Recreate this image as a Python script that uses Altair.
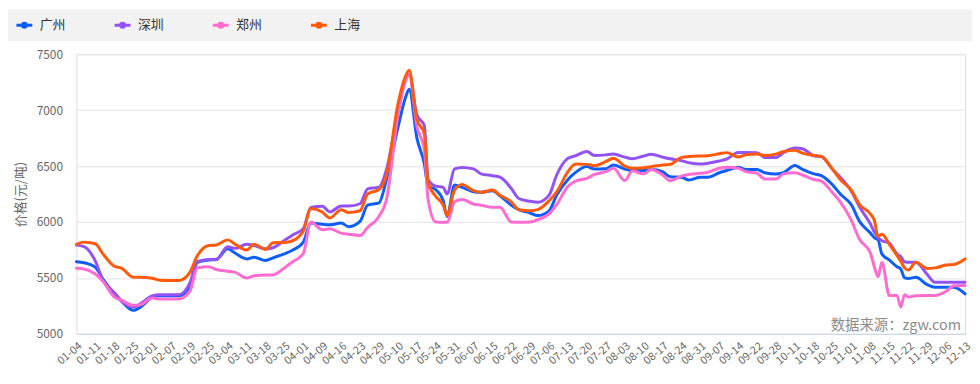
import altair as alt
import pandas as pd

# ---- data -------------------------------------------------------------------
TICK_LABELS = ['01-04', '01-11', '01-18', '01-25', '02-01', '02-07', '02-19', '02-25',
               '03-04', '03-11', '03-18', '03-25', '04-01', '04-09', '04-16', '04-23',
               '04-29', '05-10', '05-17', '05-24', '05-31', '06-07', '06-15', '06-22',
               '06-29', '07-06', '07-13', '07-20', '07-27', '08-03', '08-10', '08-17',
               '08-24', '08-31', '09-07', '09-14', '09-22', '09-28', '10-11', '10-18',
               '10-25', '11-01', '11-08', '11-15', '11-22', '11-29', '12-06', '12-13']

SERIES = ['广州', '深圳', '郑州', '上海']
COLORS = ['#0f5ef7', '#9352f5', '#ff6cd0', '#ff5a0a']

# trading-day index of each sample (one category label every 5 trading days)
IDX = [0, 2, 5, 7, 10, 12, 15, 17, 20, 22, 25, 27, 30, 32, 35, 37, 40, 42, 45, 47,
       50, 52, 55, 57, 60, 62, 65, 67, 70, 72, 75, 77, 80, 82, 85, 87, 88, 90, 92, 93,
       95, 97, 98, 100, 102, 105, 107, 110, 112, 115, 117, 120, 122, 125, 127, 130, 132,
       135, 137, 140, 142, 145, 147, 150, 152, 155, 157, 160, 162, 165, 167, 170, 172,
       175, 177, 180, 182, 185, 187, 190, 192, 195, 197, 200, 202, 205, 207, 210, 211,
       212, 213, 215, 217, 218, 219, 220, 222, 225, 227, 230, 232, 235]

GUANGZHOU = [5645, 5636, 5595, 5490, 5360, 5290, 5210, 5240, 5325, 5340, 5340, 5340, 5420,
             5640, 5660, 5665, 5760, 5720, 5670, 5685, 5655, 5680, 5715, 5745, 5820, 5990,
             5980, 5975, 5990, 5958, 6005, 6150, 6170, 6380, 6840, 7110, 7187, 6756, 6520,
             6320, 6290, 6190, 6050, 6330, 6310, 6270, 6265, 6280, 6235, 6150, 6110, 6080,
             6057, 6100, 6240, 6380, 6443, 6495, 6473, 6475, 6510, 6473, 6460, 6460, 6470,
             6450, 6405, 6399, 6375, 6400, 6400, 6440, 6460, 6490, 6470, 6470, 6440, 6429,
             6440, 6505, 6470, 6430, 6414, 6330, 6250, 6150, 6010, 5900, 5860, 5840, 5715,
             5660, 5600, 5580, 5500, 5495, 5505, 5440, 5417, 5417, 5417, 5357]

SHENZHEN = [5793, 5780, 5650, 5478, 5370, 5290, 5240, 5270, 5340, 5349, 5349, 5349, 5455,
            5645, 5665, 5666, 5778, 5764, 5800, 5790, 5760, 5770, 5835, 5880, 5941, 6130,
            6140, 6090, 6142, 6142, 6163, 6296, 6311, 6470, 6980, 7270, 7320, 6960, 6860,
            6380, 6320, 6310, 6250, 6475, 6488, 6475, 6430, 6414, 6400, 6300, 6210, 6185,
            6176, 6240, 6420, 6570, 6592, 6630, 6595, 6600, 6607, 6580, 6565, 6590, 6605,
            6580, 6565, 6548, 6530, 6518, 6525, 6545, 6563, 6622, 6622, 6620, 6577, 6577,
            6620, 6661, 6655, 6592, 6585, 6470, 6400, 6270, 6140, 5980, 5910, 5860, 5833,
            5810, 5714, 5690, 5645, 5640, 5640, 5530, 5461, 5461, 5461, 5461]

ZHENGZHOU = [5586, 5580, 5535, 5470, 5330, 5300, 5255, 5260, 5320, 5311, 5311, 5311, 5380,
             5590, 5600, 5575, 5560, 5550, 5500, 5520, 5527, 5527, 5590, 5640, 5719, 6000,
             5930, 5940, 5900, 5890, 5880, 5950, 6050, 6200, 6950, 7260, 7321, 6860, 6650,
             6200, 6000, 5997, 5997, 6180, 6200, 6161, 6150, 6131, 6131, 6000, 5997, 6000,
             6020, 6072, 6155, 6320, 6365, 6390, 6425, 6450, 6480, 6370, 6455, 6430, 6470,
             6420, 6369, 6410, 6425, 6435, 6445, 6480, 6490, 6480, 6450, 6435, 6384, 6384,
             6430, 6440, 6420, 6380, 6365, 6260, 6180, 6010, 5850, 5720, 5600, 5510, 5640,
             5342, 5342, 5240, 5350, 5330, 5340, 5342, 5342, 5380, 5430, 5432]

SHANGHAI = [5800, 5820, 5805, 5715, 5605, 5586, 5506, 5506, 5497, 5480, 5476, 5476, 5550,
            5700, 5790, 5795, 5840, 5800, 5750, 5800, 5755, 5815, 5817, 5830, 5920, 6120,
            6090, 6035, 6110, 6085, 6100, 6250, 6290, 6420, 7050, 7300, 7357, 6920, 6790,
            6350, 6230, 6150, 6060, 6285, 6335, 6280, 6265, 6285, 6240, 6180, 6110, 6101,
            6110, 6190, 6270, 6450, 6518, 6515, 6503, 6540, 6570, 6500, 6480, 6485, 6495,
            6510, 6515, 6577, 6585, 6590, 6592, 6610, 6620, 6580, 6600, 6607, 6595, 6607,
            6630, 6640, 6615, 6595, 6585, 6470, 6380, 6280, 6160, 6070, 6015, 5870, 5890,
            5800, 5700, 5650, 5590, 5570, 5640, 5585, 5590, 5615, 5620, 5670]

SOURCE_TEXT = '数据来源：zgw.com'
Y_TITLE = '价格(元/吨)'

# ---- build table ------------------------------------------------------------
values = [GUANGZHOU, SHENZHEN, ZHENGZHOU, SHANGHAI]
rows = []
for name, vals in zip(SERIES, values):
    assert len(vals) == len(IDX), (name, len(vals), len(IDX))
    for i, v in zip(IDX, vals):
        rows.append({'idx': i, 'value': v, 'city': name})
df = pd.DataFrame(rows)

FONT = 'Noto Sans CJK SC'
label_expr = '[' + ','.join("'%s'" % t for t in TICK_LABELS) + '][round(datum.value / 5)]'

x_enc = alt.X('idx:Q',
              scale=alt.Scale(domain=[0, 235], nice=False, zero=False),
              axis=alt.Axis(values=list(range(0, 236, 5)), labelExpr=label_expr,
                            labelAngle=-40, grid=False, ticks=False,
                            domainColor='#c6d4ec', domainWidth=1, title=None,
                            labelFontSize=11, labelColor='#666666', labelPadding=6,
                            labelOverlap=False, labelFlush=False, labelFont=FONT))
y_enc = alt.Y('value:Q',
              scale=alt.Scale(domain=[5000, 7500], nice=False, zero=False),
              axis=alt.Axis(values=[5000, 5500, 6000, 6500, 7000, 7500], format='d',
                            title=Y_TITLE,
                            domain=False, ticks=False, gridColor='#e3e3e3',
                            labelColor='#666666', labelFontSize=12, labelPadding=14,
                            labelFont=FONT, titleFont=FONT,
                            titleColor='#666666', titleFontSize=13,
                            titleFontWeight='normal', titlePadding=9))
color_enc = alt.Color('city:N',
                      scale=alt.Scale(domain=SERIES, range=COLORS),
                      legend=alt.Legend(title=None, orient='none', legendX=-62, legendY=-39,
                                        direction='horizontal',
                                        symbolType='M-1,0L1,0M-0.25,0A0.25,0.25,0,1,1,0.25,0A0.25,0.25,0,1,1,-0.25,0',
                                        symbolSize=256, symbolStrokeWidth=3,
                                        labelFontSize=13, labelColor='#333333',
                                        labelFont=FONT, labelOffset=6,
                                        columnPadding=42, padding=0))

band = alt.Chart(pd.DataFrame({'k': [0]})).mark_rect(color='#f2f2f2').encode(
    x=alt.value(-69), x2=alt.value(903), y=alt.value(-45), y2=alt.value(-13))

line_layers = []
for name in SERIES:
    line_layers.append(
        alt.Chart(df).transform_filter(alt.datum.city == name)
        .mark_line(strokeWidth=3, interpolate='monotone', strokeJoin='round', strokeCap='round')
        .encode(x=x_enc, y=y_enc, color=color_enc, order='idx:Q')
    )

source = alt.Chart(pd.DataFrame({'t': [SOURCE_TEXT]})).mark_text(
    align='right', baseline='alphabetic', fontSize=14.5, color='#8c8c8c', font=FONT
).encode(text='t:N', x=alt.value(892), y=alt.value(278))

chart = alt.layer(band, *line_layers, source).properties(
    width=896, height=282,
    autosize=alt.AutoSizeParams(type='none'),
    padding={'left': 69, 'top': 45, 'right': 7, 'bottom': 49},
).configure_view(stroke=None).configure(font=FONT)

chart.save('out.html', embed_options={'renderer': 'svg', 'actions': False})
